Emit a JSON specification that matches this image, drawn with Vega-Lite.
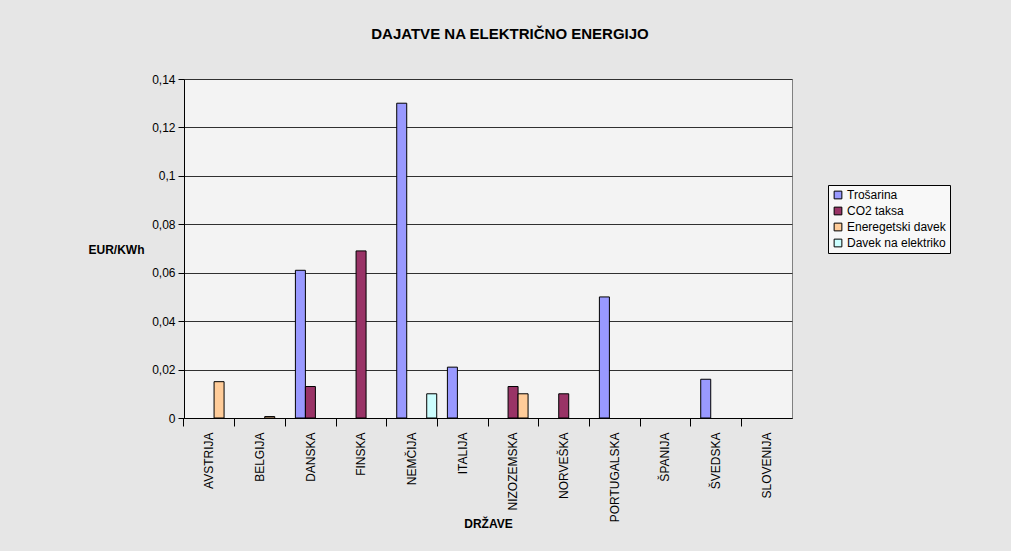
{
  "$schema": "https://vega.github.io/schema/vega-lite/v6.json",
  "width": 608,
  "height": 339,
  "autosize": "none",
  "padding": {"left": 184, "top": 79, "right": 219, "bottom": 133},
  "background": "#e6e6e6",
  "config": {
    "locale": {"number": {"decimal": ",", "thousands": ".", "grouping": [3], "currency": ["", " €"]}},
    "font": "Liberation Sans",
    "view": {"fill": "#f3f3f3", "stroke": "#808080", "strokeWidth": 1}
  },
  "title": {
    "text": "DAJATVE NA ELEKTRIČNO ENERGIJO",
    "font": "Liberation Sans",
    "fontSize": 15,
    "fontWeight": "bold",
    "color": "#000000",
    "anchor": "middle",
    "dx": 22,
    "offset": 31
  },
  "data": {
    "values": [
      {"country": "AVSTRIJA", "series": "Eneregetski davek", "value": 0.015},
      {"country": "BELGIJA", "series": "Eneregetski davek", "value": 0.0006},
      {"country": "DANSKA", "series": "Trošarina", "value": 0.061},
      {"country": "DANSKA", "series": "CO2 taksa", "value": 0.013},
      {"country": "FINSKA", "series": "CO2 taksa", "value": 0.069},
      {"country": "NEMČIJA", "series": "Trošarina", "value": 0.13},
      {"country": "NEMČIJA", "series": "Davek na elektriko", "value": 0.010},
      {"country": "ITALIJA", "series": "Trošarina", "value": 0.021},
      {"country": "NIZOZEMSKA", "series": "CO2 taksa", "value": 0.013},
      {"country": "NIZOZEMSKA", "series": "Eneregetski davek", "value": 0.010},
      {"country": "NORVEŠKA", "series": "CO2 taksa", "value": 0.010},
      {"country": "PORTUGALSKA", "series": "Trošarina", "value": 0.050},
      {"country": "ŠVEDSKA", "series": "Trošarina", "value": 0.016}
    ]
  },
  "mark": {"type": "bar", "stroke": "#000000", "strokeWidth": 1},
  "encoding": {
    "x": {
      "field": "country",
      "type": "nominal",
      "sort": ["AVSTRIJA", "BELGIJA", "DANSKA", "FINSKA", "NEMČIJA", "ITALIJA", "NIZOZEMSKA", "NORVEŠKA", "PORTUGALSKA", "ŠPANIJA", "ŠVEDSKA", "SLOVENIJA"],
      "scale": {
        "domain": ["AVSTRIJA", "BELGIJA", "DANSKA", "FINSKA", "NEMČIJA", "ITALIJA", "NIZOZEMSKA", "NORVEŠKA", "PORTUGALSKA", "ŠPANIJA", "ŠVEDSKA", "SLOVENIJA"],
        "paddingInner": 0.2,
        "paddingOuter": 0.1
      },
      "axis": {
        "title": "DRŽAVE",
        "titleFont": "Liberation Sans",
        "titleFontSize": 12,
        "titleFontWeight": "bold",
        "titleColor": "#000000",
        "titleY": 105,
        "titleBaseline": "middle",
        "labelAngle": -90,
        "labelAlign": "right",
        "labelBaseline": "middle",
        "labelFont": "Liberation Sans",
        "labelFontSize": 12,
        "labelColor": "#000000",
        "labelPadding": 6,
        "bandPosition": -0.125,
        "ticks": true,
        "tickSize": 8,
        "tickColor": "#000000",
        "domainColor": "#000000",
        "grid": false
      }
    },
    "xOffset": {
      "field": "series",
      "type": "nominal",
      "scale": {"domain": ["Trošarina", "CO2 taksa", "Eneregetski davek", "Davek na elektriko"], "range": [5, 45], "paddingInner": 0, "paddingOuter": 0}
    },
    "y": {
      "field": "value",
      "type": "quantitative",
      "scale": {"domain": [0, 0.14]},
      "axis": {
        "title": "EUR/KWh",
        "titleFont": "Liberation Sans",
        "titleFontSize": 12,
        "titleFontWeight": "bold",
        "titleColor": "#000000",
        "titleAngle": 0,
        "titleX": -68,
        "titleY": 170,
        "titleAlign": "center",
        "titleBaseline": "middle",
        "values": [0, 0.02, 0.04, 0.06, 0.08, 0.1, 0.12, 0.14],
        "format": ".2~f",
        "labelFont": "Liberation Sans",
        "labelFontSize": 12,
        "labelColor": "#000000",
        "labelPadding": 3,
        "tickSize": 6,
        "tickColor": "#000000",
        "domainColor": "#000000",
        "grid": true,
        "gridColor": "#303030",
        "gridWidth": 1
      }
    },
    "color": {
      "field": "series",
      "type": "nominal",
      "scale": {
        "domain": ["Trošarina", "CO2 taksa", "Eneregetski davek", "Davek na elektriko"],
        "range": ["#9999FF", "#993366", "#FFCC99", "#CCFFFF"]
      },
      "legend": {
        "title": null,
        "orient": "none",
        "legendX": 644,
        "legendY": 106,
        "symbolType": "square",
        "symbolSize": 60,
        "symbolStrokeColor": "#000000",
        "symbolStrokeWidth": 1,
        "labelFont": "Liberation Sans",
        "labelFontSize": 12,
        "labelColor": "#000000",
        "strokeColor": "#000000",
        "fillColor": "#f8f8f8",
        "padding": 4,
        "rowPadding": 4,
        "labelOffset": 3
      }
    }
  }
}
